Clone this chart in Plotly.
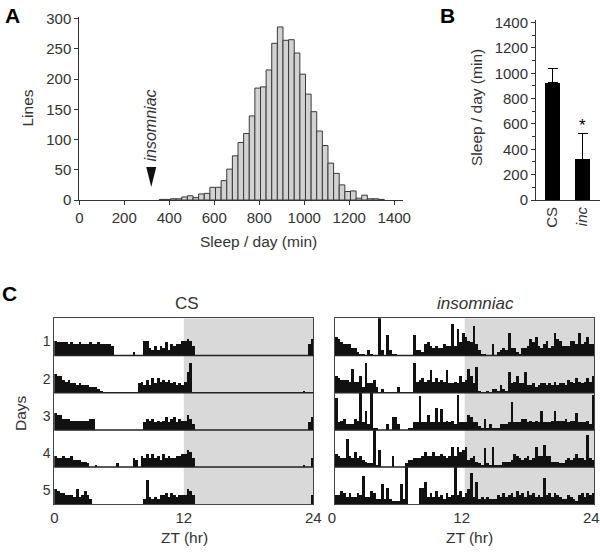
import plotly.graph_objects as go

# ---------------- Panel A: histogram of sleep per day ----------------
bin_centers = list(range(368, 1368, 25))  # 25-min bins
hist_counts = [1, 1, 2, 2, 5, 7, 4, 10, 11, 21, 21, 32, 51, 73, 95, 110, 139, 185,
               187, 215, 259, 286, 264, 265, 243, 208, 175, 146, 114, 90, 61, 44,
               25, 14, 15, 3, 8, 2, 2, 1]
hist_xticks = [0, 200, 400, 600, 800, 1000, 1200, 1400]
hist_yticks = [0, 50, 100, 150, 200, 250, 300]

# ---------------- Panel B: mean sleep per day ----------------
groups = ["CS", "inc"]
group_labels = ["CS", "<i>inc</i>"]
sleep_mean = [925, 320]
sleep_sd = [115, 205]
b_yticks = [0, 200, 400, 600, 800, 1000, 1200, 1400]
insomniac_sleep = sleep_mean[1]

# ---------------- Panel C: activity (15-min bins, 0-20 scale per row) ----------------
zt_centers = [0.125 + 0.25 * k for k in range(96)]
zt_ticks = [0, 12, 24]
day_labels = ["1", "2", "3", "4", "5"]

cs_day1 = [8, 7, 7, 7, 7, 6, 7, 6, 6, 7, 6, 6,
           6, 7, 6, 6, 7, 6, 6, 6, 6, 5, 0, 0,
           0, 0, 0, 0, 0, 2, 0, 0, 0, 8, 8, 4,
           3, 5, 3, 5, 4, 7, 3, 6, 5, 6, 6, 8,
           8, 9, 8, 5, 0, 0, 0, 0, 0, 0, 0, 0,
           0, 0, 0, 0, 0, 0, 0, 0, 0, 0, 0, 0,
           0, 0, 0, 0, 0, 0, 0, 0, 0, 0, 0, 0,
           0, 0, 0, 0, 0, 0, 0, 0, 0, 0, 6, 9]
cs_day2 = [10, 9, 9, 7, 6, 7, 5, 5, 4, 5, 4, 4,
           4, 3, 3, 3, 2, 1, 0, 0, 0, 0, 0, 0,
           0, 0, 0, 0, 0, 0, 0, 5, 6, 4, 7, 4,
           8, 5, 8, 6, 7, 6, 7, 5, 6, 4, 5, 4,
           6, 11, 16, 0, 0, 0, 0, 0, 0, 0, 0, 0,
           0, 0, 0, 0, 0, 0, 0, 0, 0, 0, 0, 0,
           0, 0, 0, 0, 0, 0, 0, 0, 0, 0, 0, 0,
           0, 0, 0, 0, 0, 0, 0, 0, 1, 0, 0, 0]
cs_day3 = [9, 8, 8, 6, 6, 6, 5, 5, 5, 5, 5, 5,
           5, 6, 6, 0, 0, 0, 0, 0, 0, 0, 0, 0,
           0, 0, 0, 0, 0, 0, 0, 0, 0, 4, 6, 5,
           6, 4, 5, 4, 5, 7, 4, 6, 7, 4, 6, 5,
           5, 8, 6, 3, 0, 0, 0, 0, 0, 0, 0, 0,
           0, 0, 0, 0, 0, 0, 0, 0, 0, 0, 0, 0,
           0, 0, 0, 0, 0, 0, 0, 0, 0, 0, 0, 0,
           0, 0, 0, 0, 0, 0, 0, 0, 0, 0, 4, 7]
cs_day4 = [6, 5, 5, 6, 5, 5, 6, 4, 4, 4, 3, 3,
           2, 0, 0, 1, 0, 0, 0, 0, 0, 0, 0, 2,
           0, 0, 0, 0, 0, 5, 4, 0, 6, 5, 7, 5,
           7, 5, 6, 4, 7, 5, 6, 5, 5, 6, 6, 7,
           7, 9, 8, 5, 0, 0, 0, 0, 0, 0, 0, 0,
           0, 0, 0, 0, 0, 0, 0, 0, 0, 0, 0, 0,
           0, 0, 0, 0, 0, 0, 0, 0, 0, 0, 0, 0,
           0, 0, 0, 0, 0, 0, 0, 0, 1, 0, 0, 5]
cs_day5 = [8, 7, 6, 6, 5, 5, 5, 4, 8, 4, 5, 7,
           5, 3, 0, 0, 0, 0, 0, 0, 0, 0, 0, 0,
           0, 0, 0, 0, 0, 0, 0, 0, 0, 3, 13, 4,
           3, 4, 3, 5, 5, 6, 4, 6, 5, 4, 5, 5,
           5, 8, 7, 5, 0, 0, 0, 0, 0, 0, 0, 0,
           0, 0, 0, 0, 0, 0, 0, 0, 0, 0, 0, 0,
           0, 0, 0, 0, 0, 0, 0, 0, 0, 0, 0, 0,
           0, 0, 0, 0, 0, 0, 0, 0, 0, 0, 0, 5]

ins_day1 = [10, 9, 7, 6, 6, 6, 4, 4, 2, 1, 1, 0,
            3, 1, 0, 0, 20, 3, 0, 11, 3, 1, 1, 0,
            0, 0, 0, 0, 0, 11, 3, 3, 2, 6, 7, 5,
            4, 5, 4, 4, 6, 5, 5, 17, 5, 14, 7, 12,
            10, 8, 7, 16, 6, 3, 1, 1, 0, 0, 6, 0,
            2, 3, 4, 3, 12, 4, 4, 2, 1, 4, 4, 5,
            9, 7, 10, 5, 4, 6, 8, 4, 5, 12, 9, 8,
            5, 5, 5, 8, 8, 6, 12, 6, 7, 10, 6, 6]
ins_day2 = [9, 8, 7, 7, 7, 6, 13, 6, 6, 9, 3, 16,
            5, 5, 7, 3, 0, 2, 0, 0, 0, 0, 0, 3,
            0, 0, 0, 0, 0, 16, 6, 7, 8, 6, 7, 12,
            6, 8, 6, 7, 6, 12, 5, 5, 6, 5, 9, 6,
            7, 13, 9, 5, 14, 1, 0, 0, 1, 0, 2, 2,
            1, 4, 2, 1, 11, 5, 6, 9, 5, 5, 11, 4,
            4, 5, 3, 4, 5, 5, 4, 5, 4, 6, 4, 5,
            5, 4, 7, 6, 5, 8, 6, 5, 6, 8, 6, 9]
ins_day3 = [17, 4, 5, 6, 3, 3, 3, 6, 5, 20, 4, 10,
            3, 20, 1, 1, 0, 0, 0, 3, 0, 7, 7, 3,
            0, 0, 0, 1, 1, 4, 4, 18, 4, 4, 8, 4,
            4, 12, 4, 11, 4, 5, 4, 5, 3, 19, 4, 4,
            4, 8, 7, 4, 4, 2, 1, 6, 1, 3, 1, 1,
            1, 3, 3, 3, 4, 15, 4, 4, 4, 6, 6, 4,
            5, 4, 5, 4, 10, 4, 4, 4, 5, 10, 5, 5,
            5, 6, 4, 5, 5, 9, 4, 4, 4, 5, 3, 19]
ins_day4 = [7, 6, 5, 5, 15, 6, 5, 8, 5, 6, 4, 3,
            2, 2, 20, 1, 9, 0, 0, 0, 0, 6, 0, 0,
            0, 0, 2, 4, 4, 5, 5, 5, 6, 8, 6, 6,
            8, 6, 6, 7, 6, 5, 6, 11, 6, 11, 8, 9,
            11, 4, 5, 6, 3, 2, 1, 10, 2, 1, 11, 1,
            1, 1, 3, 3, 3, 4, 7, 6, 5, 4, 5, 6,
            4, 5, 11, 6, 6, 12, 6, 6, 3, 3, 3, 2,
            2, 4, 5, 4, 5, 7, 5, 5, 4, 17, 5, 4]
ins_day5 = [5, 5, 7, 6, 4, 6, 4, 4, 6, 5, 15, 4,
            4, 7, 6, 3, 3, 11, 3, 9, 3, 2, 2, 2,
            11, 3, 20, 0, 0, 0, 0, 9, 9, 12, 4, 6,
            4, 7, 4, 5, 3, 6, 4, 5, 20, 5, 7, 4,
            6, 8, 17, 4, 12, 3, 4, 3, 4, 3, 3, 3,
            5, 4, 6, 4, 5, 6, 4, 7, 5, 6, 4, 7,
            5, 6, 4, 5, 4, 14, 5, 6, 4, 6, 5, 4,
            3, 3, 5, 4, 3, 2, 5, 6, 4, 6, 5, 6]

cs_days = [cs_day1, cs_day2, cs_day3, cs_day4, cs_day5]
ins_days = [ins_day1, ins_day2, ins_day3, ins_day4, ins_day5]
ROW_H = 20  # units per day row

# ---------------- figure ----------------
W, H = 600, 552
FONT = "Liberation Sans, Arial, Helvetica, sans-serif"
TXT = "#333333"


def px(x):
    return x / W


def py(y):
    return 1 - y / H


fig = go.Figure()

fig.add_trace(go.Bar(x=bin_centers, y=hist_counts, width=25,
                     marker=dict(color="#d2d2d2", line=dict(color="#3a3a3a", width=1)),
                     xaxis="x", yaxis="y", showlegend=False, hoverinfo="skip"))

fig.add_trace(go.Bar(x=groups, y=sleep_mean, width=0.5,
                     marker=dict(color="#000000", line=dict(width=0)),
                     error_y=dict(type="data", array=sleep_sd, arrayminus=[0, 0],
                                  symmetric=False, color="#000000", thickness=1.2, width=5),
                     xaxis="x2", yaxis="y2", showlegend=False, hoverinfo="skip"))

for days, xa, ya in [(cs_days, "x3", "y3"), (ins_days, "x4", "y4")]:
    for i, row in enumerate(days):
        fig.add_trace(go.Bar(x=zt_centers, y=row, base=(4 - i) * ROW_H, width=0.25,
                             marker=dict(color="#111111", line=dict(width=0)),
                             xaxis=xa, yaxis=ya, showlegend=False, hoverinfo="skip"))

axis_common = dict(showgrid=False, zeroline=False, showline=True, linecolor="#333333",
                   linewidth=1, automargin=False, ticklabeloverflow="allow",
                   tickfont=dict(family=FONT, size=15, color=TXT))

shapes = []
for xa, ya in [("x3", "y3"), ("x4", "y4")]:
    shapes.append(dict(type="rect", xref=xa, yref=ya, x0=12, x1=24, y0=0, y1=5 * ROW_H,
                       fillcolor="#d9d9d9", line=dict(width=0), layer="below"))
    for k in range(1, 5):
        shapes.append(dict(type="line", xref=xa + " domain", yref=ya, x0=0, x1=1,
                           y0=k * ROW_H, y1=k * ROW_H, line=dict(color="#222222", width=1.5)))

# arrow marking the insomniac line in the histogram
shapes.append(dict(type="path", xref="x", yref="y", xsizemode="pixel", ysizemode="pixel",
                   xanchor=insomniac_sleep, yanchor=0,
                   path="M -5,33 L 5,33 L 0,13 Z", fillcolor="#111111", line=dict(width=0)))

ann = []


def text(x, y, s, size=15.5, angle=0, color=TXT, **kw):
    ann.append(dict(x=px(x), y=py(y), xref="paper", yref="paper", text=s, showarrow=False,
                    textangle=angle, font=dict(family=FONT, size=size, color=color),
                    xanchor="center", yanchor="middle", **kw))


text(12, 15, "<b>A</b>", size=21, color="#000")
text(447, 15, "<b>B</b>", size=21, color="#000")
text(9, 293, "<b>C</b>", size=21, color="#000")
text(27.5, 108, "Lines", angle=-90)
text(258, 242, "Sleep / day (min)")
text(477, 108, "Sleep / day (min)", angle=-90)
text(150, 125.5, "<i>insomniac</i>", size=16, angle=-90)
text(187, 303, "CS", size=17)
text(475, 303, "<i>insomniac</i>", size=17)
text(20, 413, "Days", angle=-90)
text(184, 537, "ZT (hr)")
text(469, 537, "ZT (hr)")

ann.append(dict(x="inc", y=sleep_mean[1] + sleep_sd[1], xref="x2", yref="y2", text="*",
                showarrow=False, yanchor="bottom", yshift=-4,
                font=dict(family=FONT, size=17, color="#000")))

row_font = dict(family=FONT, size=14, color=TXT)

fig.update_layout(
    template="none",
    width=W, height=H, autosize=False, margin=dict(l=0, r=0, t=0, b=0, pad=0),
    paper_bgcolor="white", plot_bgcolor="rgba(0,0,0,0)", barmode="overlay", bargap=0,
    font=dict(family=FONT, color=TXT),
    shapes=shapes, annotations=ann,
    xaxis=dict(axis_common, domain=[px(79.3), px(403)], range=[0, 1439], anchor="y",
               tickvals=hist_xticks, ticks="outside", ticklen=4, tickcolor="#333333"),
    yaxis=dict(axis_common, domain=[py(200), py(16.7)], range=[0, 303], anchor="x",
               tickvals=hist_yticks, ticks="outside", ticklen=4, tickcolor="#333333"),
    xaxis2=dict(axis_common, domain=[px(536), px(600)], range=[-0.55, 1.583], anchor="y2",
                tickvals=groups, ticktext=group_labels, tickangle=-90, ticks=""),
    yaxis2=dict(axis_common, domain=[py(200), py(20.1)], range=[0, 1420], anchor="x2",
                tickvals=b_yticks, ticks="outside", ticklen=4, tickcolor="#333333",
                minor=dict(dtick=100, ticks="outside", ticklen=3, tickcolor="#333333")),
    xaxis3=dict(axis_common, domain=[px(54.3), px(313.3)], range=[0, 24], mirror=True,
                tickvals=zt_ticks, ticks="", linecolor="#444444", anchor="y3"),
    yaxis3=dict(axis_common, domain=[py(504.3), py(318.3)], range=[0, 5 * ROW_H], mirror=True,
                tickvals=[(4 - i) * ROW_H + 7.5 for i in range(5)], ticktext=day_labels,
                ticks="", linecolor="#444444", anchor="x3", tickfont=row_font),
    xaxis4=dict(axis_common, domain=[px(335), px(594.3)], range=[0, 24], mirror=True,
                tickvals=zt_ticks, ticks="", linecolor="#444444", anchor="y4",
                ticklabelshift=-3),
    yaxis4=dict(axis_common, domain=[py(504.3), py(318.3)], range=[0, 5 * ROW_H], mirror=True,
                showticklabels=False, ticks="", linecolor="#444444", anchor="x4"),
)

fig.write_html("out.html", config={"displayModeBar": False, "staticPlot": True},
               post_script="document.body.style.margin='0';document.body.style.overflow='hidden';")
